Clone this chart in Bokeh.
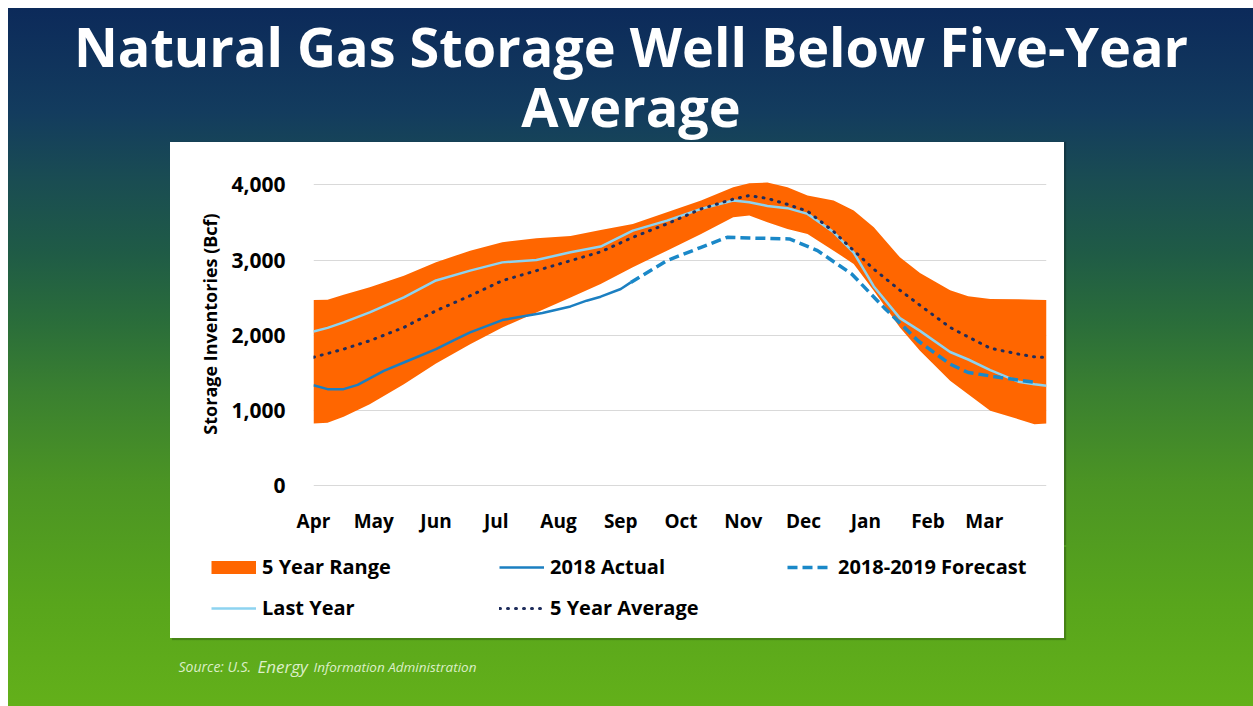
from bokeh.plotting import figure
from bokeh.models import (Range1d, FixedTicker, Legend, LegendItem, Label, Spacer,
                          NumeralTickFormatter)
from bokeh.layouts import column, row
from bokeh.embed import file_html
from bokeh.resources import INLINE

# ---------------- data (days counted from 1 April) ----------------
DAYS = [0, 7, 15, 28, 45, 61, 78, 94, 111, 128, 143, 159, 176, 193, 209, 217, 226,
        236, 246, 259, 269, 279, 292, 302, 317, 326, 337, 351, 359, 365]
RANGE_HIGH = [2470, 2475, 2540, 2638, 2793, 2970, 3126, 3237, 3290, 3320, 3400, 3481, 3636,
              3791, 3968, 4020, 4030, 3968, 3857, 3791, 3658, 3436, 3037, 2830, 2600, 2520,
              2483, 2480, 2475, 2470]
RANGE_LOW = [829, 840, 918, 1086, 1352, 1627, 1884, 2106, 2305, 2505, 2683, 2904, 3126,
             3348, 3569, 3591, 3502, 3414, 3348, 3126, 2949, 2594, 2106, 1796, 1397, 1220,
             998, 887, 821, 829]
AVG_5Y = [1710, 1760, 1818, 1929, 2106, 2328, 2527, 2727, 2860, 2993, 3110, 3303, 3481,
          3680, 3810, 3857, 3820, 3740, 3650, 3380, 3126, 2880, 2600, 2400, 2106, 1980,
          1830, 1752, 1715, 1705]
LAST_YEAR = [2053, 2100, 2173, 2306, 2505, 2730, 2860, 2970, 3002, 3104, 3180, 3392, 3525,
             3680, 3791, 3769, 3720, 3690, 3614, 3370, 3100, 2650, 2230, 2060, 1780, 1680,
             1540, 1385, 1350, 1330]
ACTUAL_DAYS = [0, 7, 15, 22, 35, 45, 61, 70, 78, 94, 106, 114, 128, 136, 143, 153, 158]
ACTUAL_2018 = [1339, 1286, 1286, 1343, 1530, 1640, 1818, 1938, 2040, 2204, 2261, 2297,
               2385, 2461, 2514, 2616, 2704]
FCST_DAYS = [158, 176, 193, 206, 217, 237, 251, 268, 284, 301, 317, 326, 342, 360]
FORECAST = [2704, 2993, 3170, 3303, 3294, 3281, 3126, 2816, 2372, 1929, 1618, 1507,
            1441, 1374]
MONTH_TICKS = [0, 30, 61, 91, 122, 153, 183, 214, 244, 275, 306, 334]
MONTH_LABELS = ["Apr", "May", "Jun", "Jul", "Aug", "Sep", "Oct", "Nov", "Dec", "Jan",
                "Feb", "Mar"]
Y_TICKS = [0, 1000, 2000, 3000, 4000]
SERIES_NAMES = ["5 Year Range", "2018 Actual", "2018-2019 Forecast", "Last Year",
                "5 Year Average"]

TITLE_1 = "Natural Gas Storage Well Below Five-Year"
TITLE_2 = "Average"
SOURCE_PARTS = ["Source: U.S.", "Energy", "Information Administration"]

FONT = "Open Sans"
ORANGE = "#ff6600"
BLUE = "#1b7fc1"
FC_BLUE = "#1a88c8"
LIGHT_BLUE = "#8dd3f0"
NAVY = "#1f2d5c"

STYLES = {
    "5 Year Range": dict(line_color=ORANGE, line_width=13, line_cap="butt"),
    "2018 Actual": dict(line_color=BLUE, line_width=2.5),
    "2018-2019 Forecast": dict(line_color=FC_BLUE, line_width=3.5, line_dash="10 5"),
    "Last Year": dict(line_color=LIGHT_BLUE, line_width=2.5),
    "5 Year Average": dict(line_color=NAVY, line_width=3, line_dash="1 7",
                           line_cap="round"),
}
SERIES_XY = {
    "5 Year Range": (DAYS, RANGE_HIGH),
    "2018 Actual": (ACTUAL_DAYS, ACTUAL_2018),
    "2018-2019 Forecast": (FCST_DAYS, FORECAST),
    "Last Year": (DAYS, LAST_YEAR),
    "5 Year Average": (DAYS, AVG_5Y),
}


def bare_figure(w, h, x_range=None, y_range=None):
    f = figure(width=w, height=h,
               x_range=x_range if x_range is not None else Range1d(0, w),
               y_range=y_range if y_range is not None else Range1d(0, h),
               x_axis_type=None, y_axis_type=None, output_backend="svg",
               toolbar_location=None, min_border=0, outline_line_color=None)
    f.grid.visible = False
    return f


# ---------------- title band ----------------
tf = bare_figure(1245, 134)
tf.border_fill_alpha = 0
tf.background_fill_alpha = 0
for txt, yy in [(TITLE_1, 97), (TITLE_2, 37)]:
    tf.add_layout(Label(x=622.5, y=yy, x_units="screen", y_units="screen", text=txt,
                        text_align="center", text_baseline="middle",
                        text_font=FONT, text_font_size="54px", text_font_style="bold",
                        text_color="white"))

# ---------------- chart ----------------
p = figure(width=894, height=403, x_range=Range1d(0, 365), y_range=Range1d(-20, 4323),
           output_backend="svg", toolbar_location=None,
           min_border_left=143, min_border_right=18, min_border_top=18,
           min_border_bottom=58, border_fill_color="white",
           background_fill_color="white", outline_line_color=None,
           styles={"background-color": "white",
                   "box-shadow": "2px 0px 1px rgba(0,0,0,0.22)"})

p.varea(x=DAYS, y1=RANGE_LOW, y2=RANGE_HIGH, fill_color=ORANGE, fill_alpha=1.0)
p.line(DAYS, LAST_YEAR, **STYLES["Last Year"])
p.line(ACTUAL_DAYS, ACTUAL_2018, **STYLES["2018 Actual"])
p.line(FCST_DAYS, FORECAST, **STYLES["2018-2019 Forecast"])
p.line(DAYS, AVG_5Y, **STYLES["5 Year Average"])

p.xgrid.visible = False
p.ygrid.grid_line_color = "#d9d9d9"
p.ygrid.grid_line_width = 1

p.yaxis.ticker = FixedTicker(ticks=Y_TICKS)
p.yaxis.formatter = NumeralTickFormatter(format="0,0")
p.yaxis.axis_label = "Storage Inventories (Bcf)"
p.yaxis.axis_label_text_font = FONT
p.yaxis.axis_label_text_font_size = "18px"
p.yaxis.axis_label_text_font_style = "bold"
p.yaxis.axis_label_text_color = "#000000"
p.yaxis.axis_label_standoff = 6
p.yaxis.major_label_standoff = 28

p.xaxis.ticker = FixedTicker(ticks=MONTH_TICKS)
p.xaxis.major_label_overrides = {t: m for t, m in zip(MONTH_TICKS, MONTH_LABELS)}
p.xaxis.major_label_standoff = 20

for ax in (p.xaxis, p.yaxis):
    ax.axis_line_color = None
    ax.major_tick_line_color = None
    ax.minor_tick_line_color = None
    ax.major_tick_out = 0
    ax.major_tick_in = 0
    ax.minor_tick_out = 0
    ax.minor_tick_in = 0
    ax.major_label_text_font = FONT
    ax.major_label_text_font_style = "bold"
    ax.major_label_text_color = "#000000"
p.yaxis.major_label_text_font_size = "21px"
p.xaxis.major_label_text_font_size = "19px"

# ---------------- legend (lower part of the white panel) ----------------
# key renderers carry the real series but lie outside this strip's (0..1) ranges,
# so only their legend swatches are visible
lf = bare_figure(894, 93, x_range=Range1d(0, 1), y_range=Range1d(0, 1))
lf.border_fill_color = "white"
lf.background_fill_color = "white"
lf.styles = {"background-color": "white",
             "box-shadow": "2px 2px 1px rgba(0,0,0,0.22)"}
keys = {n: lf.line(SERIES_XY[n][0], SERIES_XY[n][1], **STYLES[n]) for n in SERIES_NAMES}
legend = Legend(items=[LegendItem(label=n, renderers=[keys[n]]) for n in SERIES_NAMES],
                orientation="horizontal", ncols=3, location=(41, 17),
                glyph_width=45, glyph_height=22, label_height=22, label_width=223,
                label_standoff=6, spacing=14, padding=0, margin=0,
                label_text_font=FONT, label_text_font_size="20px",
                label_text_font_style="bold", label_text_color="#000000",
                border_line_color=None, background_fill_alpha=0)
lf.add_layout(legend)

# ---------------- source band ----------------
bf = bare_figure(1245, 68)
bf.border_fill_alpha = 0
bf.background_fill_alpha = 0
for txt, xx, fs in zip(SOURCE_PARTS, [170, 249, 305], ["14px", "17px", "13.5px"]):
    bf.add_layout(Label(x=xx, y=40, x_units="screen", y_units="screen", text=txt,
                        text_align="left", text_baseline="middle", text_font=FONT,
                        text_font_size=fs, text_font_style="italic",
                        text_color="#dcefc8"))

grad = ("linear-gradient(180deg, #0c2a5a 0%, #133c5e 15%, #1a4d52 25%, #1f5b46 35%, "
        "#2a6d3a 45%, #3a8030 55%, #4b9424 68%, #58a51c 85%, #63b01a 100%)")
inner = column(tf,
               row(Spacer(width=162, height=403), p, Spacer(width=189, height=403)),
               row(Spacer(width=162, height=93), lf, Spacer(width=189, height=93)),
               bf, width=1245, height=698, styles={"background": grad})
layout = column(Spacer(width=1253, height=8), row(Spacer(width=8, height=698), inner))

open("out.html", "w").write(file_html(layout, INLINE))
